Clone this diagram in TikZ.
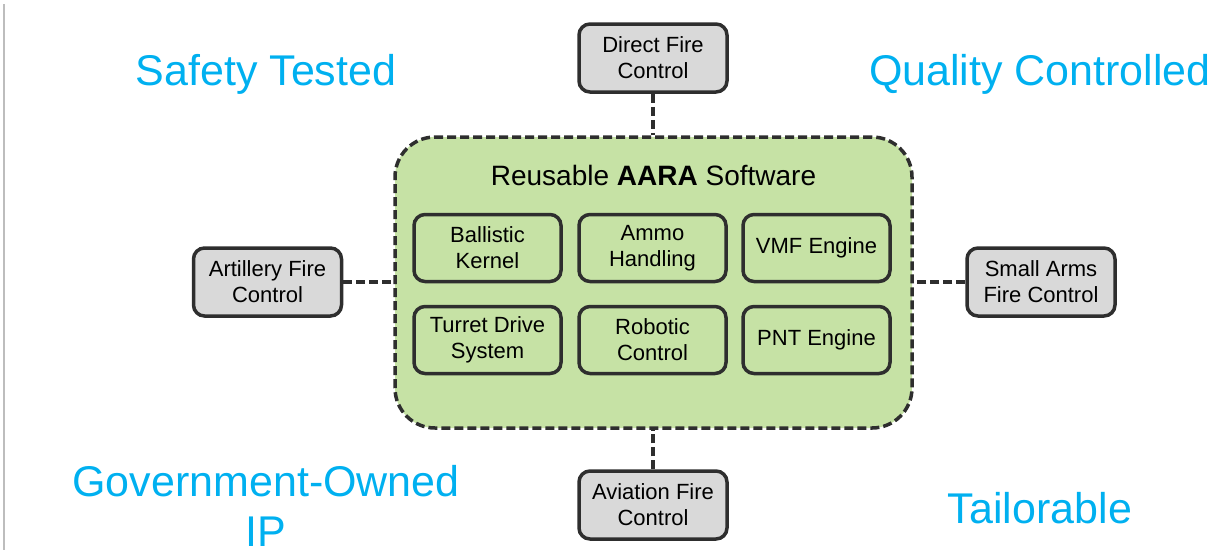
\documentclass[tikz,border=0pt]{standalone}
\usepackage{fontspec}
\setmainfont{Liberation Sans}
\definecolor{cyantxt}{HTML}{00B0F0}
\definecolor{greenfill}{HTML}{C6E2A5}
\definecolor{grayfill}{HTML}{D9D9D9}
\definecolor{edge}{HTML}{2E2E2E}
\definecolor{sideline}{HTML}{BDBDBD}
\begin{document}
\begin{tikzpicture}[x=1pt,y=-1pt,
  corner/.style={text=cyantxt,font=\fontsize{43}{50}\selectfont,align=center,inner sep=0pt},
  outerbox/.style={draw=edge,line width=3.5pt,fill=grayfill,rounded corners=11pt,minimum width=148pt,minimum height=68pt,align=center,font=\fontsize{22}{26}\selectfont,inner sep=0pt},
  innerbox/.style={draw=edge,line width=3.5pt,fill=greenfill,rounded corners=11pt,minimum width=147pt,minimum height=67pt,align=center,font=\fontsize{22}{26}\selectfont,inner sep=0pt},
  mainbox/.style={draw=edge,line width=3.5pt,dash pattern=on 9pt off 4pt,fill=greenfill,rounded corners=40pt,minimum width=517pt,minimum height=291pt,inner sep=0pt},
  link/.style={draw=edge,line width=3.5pt,dash pattern=on 9pt off 4pt}
]
\useasboundingbox (0,0) rectangle (1229,550);
\draw[sideline,line width=2.5pt] (4,4) -- (4,550);

\node[mainbox] (main) at (653.5,282.5) {};
\node[font=\fontsize{28}{33}\selectfont,anchor=base] (title) at (653.5,185) {Reusable \textbf{AARA} Software};

\node[innerbox] (ball) at (487.5,248) {Ballistic\\Kernel};
\node[innerbox] (ammo) at (652.5,248) {Ammo\\Handling};
\node[innerbox] (vmf) at (816.5,248) {VMF Engine};
\node[innerbox] (turret) at (487.5,340) {Turret Drive\\System};
\node[innerbox] (robot) at (652.5,340) {Robotic\\Control};
\node[innerbox] (pnt) at (816.5,340) {PNT Engine};

\node[outerbox] (direct) at (653,58) {Direct Fire\\Control};
\node[outerbox] (art) at (267.5,282) {Artillery Fire\\Control};
\node[outerbox] (small) at (1041,282) {Small Arms\\Fire Control};
\node[outerbox] (avi) at (653,505) {Aviation Fire\\Control};

\path[link] (direct.south) -- (direct.south |- main.north);
\path[link] (avi.north) -- (avi.north |- main.south);
\path[link] (art.east) -- (art.east -| main.west);
\path[link] (small.west) -- (small.west -| main.east);

\node[corner] (safety) at (266,74) {Safety Tested};
\node[corner] (quality) at (1040,74) {Quality Controlled};
\node[corner] (gov) at (266,506) {Government-Owned\\IP};
\node[corner] (tail) at (1040,508) {Tailorable};
\end{tikzpicture}
\end{document}
